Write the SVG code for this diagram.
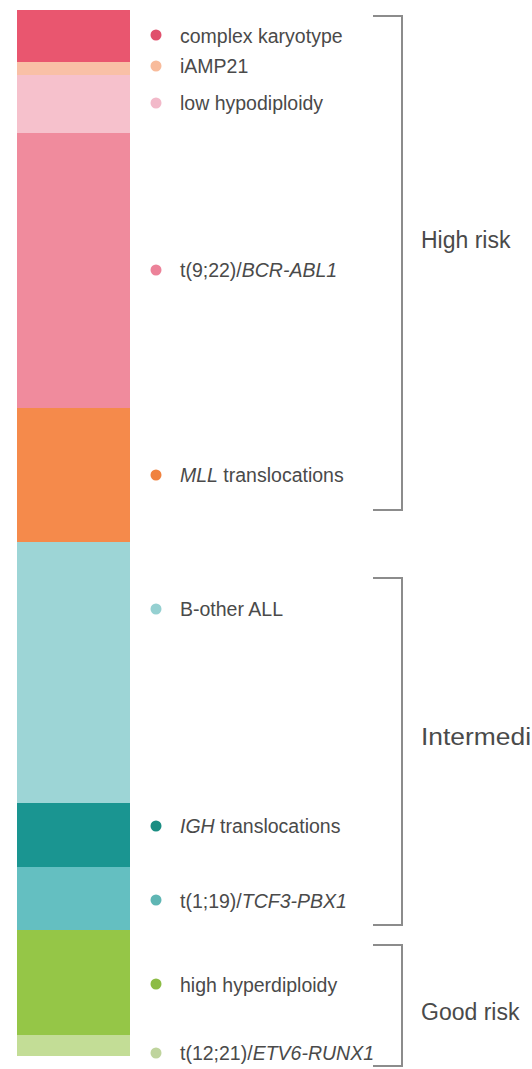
<svg xmlns="http://www.w3.org/2000/svg" width="532" height="1069" viewBox="0 0 532 1069">
<style>
.lbl{font-family:"Liberation Sans",Arial,sans-serif;font-size:19.5px;fill:#4a4a4a}
.grp{font-family:"Liberation Sans",Arial,sans-serif;font-size:23px;fill:#4a4a4a}
.it{font-style:italic}
.br{fill:none;stroke:#8c8c8c;stroke-width:2}
</style>
<rect width="532" height="1069" fill="#ffffff"/>
<g id="bar">
<rect id="seg-complex" x="17" y="10" width="113" height="52" fill="#e9566f"/>
<rect id="seg-iamp21" x="17" y="62" width="113" height="13" fill="#f9c0a6"/>
<rect id="seg-lowhypo" x="17" y="75" width="113" height="58" fill="#f6c1cc"/>
<rect id="seg-bcrabl" x="17" y="133" width="113" height="275" fill="#f08b9d"/>
<rect id="seg-mll" x="17" y="408" width="113" height="134" fill="#f58a4b"/>
<rect id="seg-bother" x="17" y="542" width="113" height="261" fill="#9dd5d6"/>
<rect id="seg-igh" x="17" y="803" width="113" height="64" fill="#1a9591"/>
<rect id="seg-tcf3" x="17" y="867" width="113" height="63" fill="#64bfc1"/>
<rect id="seg-hyper" x="17" y="930" width="113" height="105" fill="#95c647"/>
<rect id="seg-etv6" x="17" y="1035" width="113" height="21" fill="#c3dd96"/>
</g>
<g id="legend-complex"><circle cx="156" cy="35" r="5.5" fill="#e0506c"/><text class="lbl" x="180" y="43">complex karyotype</text></g>
<g id="legend-iamp21"><circle cx="156" cy="66" r="5.5" fill="#f8bb9b"/><text class="lbl" x="180" y="73">iAMP21</text></g>
<g id="legend-lowhypo"><circle cx="156" cy="103" r="5.5" fill="#f2b9c9"/><text class="lbl" x="180" y="110">low hypodiploidy</text></g>
<g id="legend-bcrabl"><circle cx="156" cy="270" r="5.5" fill="#ec8299"/><text class="lbl" x="180" y="277">t(9;22)/<tspan class="it">BCR-ABL1</tspan></text></g>
<g id="legend-mll"><circle cx="156" cy="475" r="5.5" fill="#f0823f"/><text class="lbl" x="180" y="482"><tspan class="it">MLL</tspan> translocations</text></g>
<g id="legend-bother"><circle cx="156" cy="609" r="5.5" fill="#95d0d1"/><text class="lbl" x="180" y="616">B-other ALL</text></g>
<g id="legend-igh"><circle cx="156" cy="826" r="5.5" fill="#1a8d82"/><text class="lbl" x="180" y="833"><tspan class="it">IGH</tspan> translocations</text></g>
<g id="legend-tcf3"><circle cx="156" cy="900" r="5.5" fill="#5fb6b4"/><text class="lbl" x="180" y="908">t(1;19)/<tspan class="it">TCF3-PBX1</tspan></text></g>
<g id="legend-hyper"><circle cx="156" cy="984" r="5.5" fill="#8cbc45"/><text class="lbl" x="180" y="992">high hyperdiploidy</text></g>
<g id="legend-etv6"><circle cx="156" cy="1053" r="5.5" fill="#bfd49d"/><text class="lbl" x="180" y="1060">t(12;21)/<tspan class="it">ETV6-RUNX1</tspan></text></g>
<g id="connectors">
<path class="br" d="M373 16 H402 V510 H373"/>
<path class="br" d="M373 578 H402 V925 H373"/>
<path class="br" d="M373 945 H402 V1066 H373"/>
</g>
<g id="group-high"><text class="grp" x="421" y="248">High risk</text></g>
<g id="group-intermediate"><text class="grp" x="421" y="745" textLength="110" lengthAdjust="spacingAndGlyphs">Intermedi</text></g>
<g id="group-good"><text class="grp" x="421" y="1020">Good risk</text></g>
</svg>
